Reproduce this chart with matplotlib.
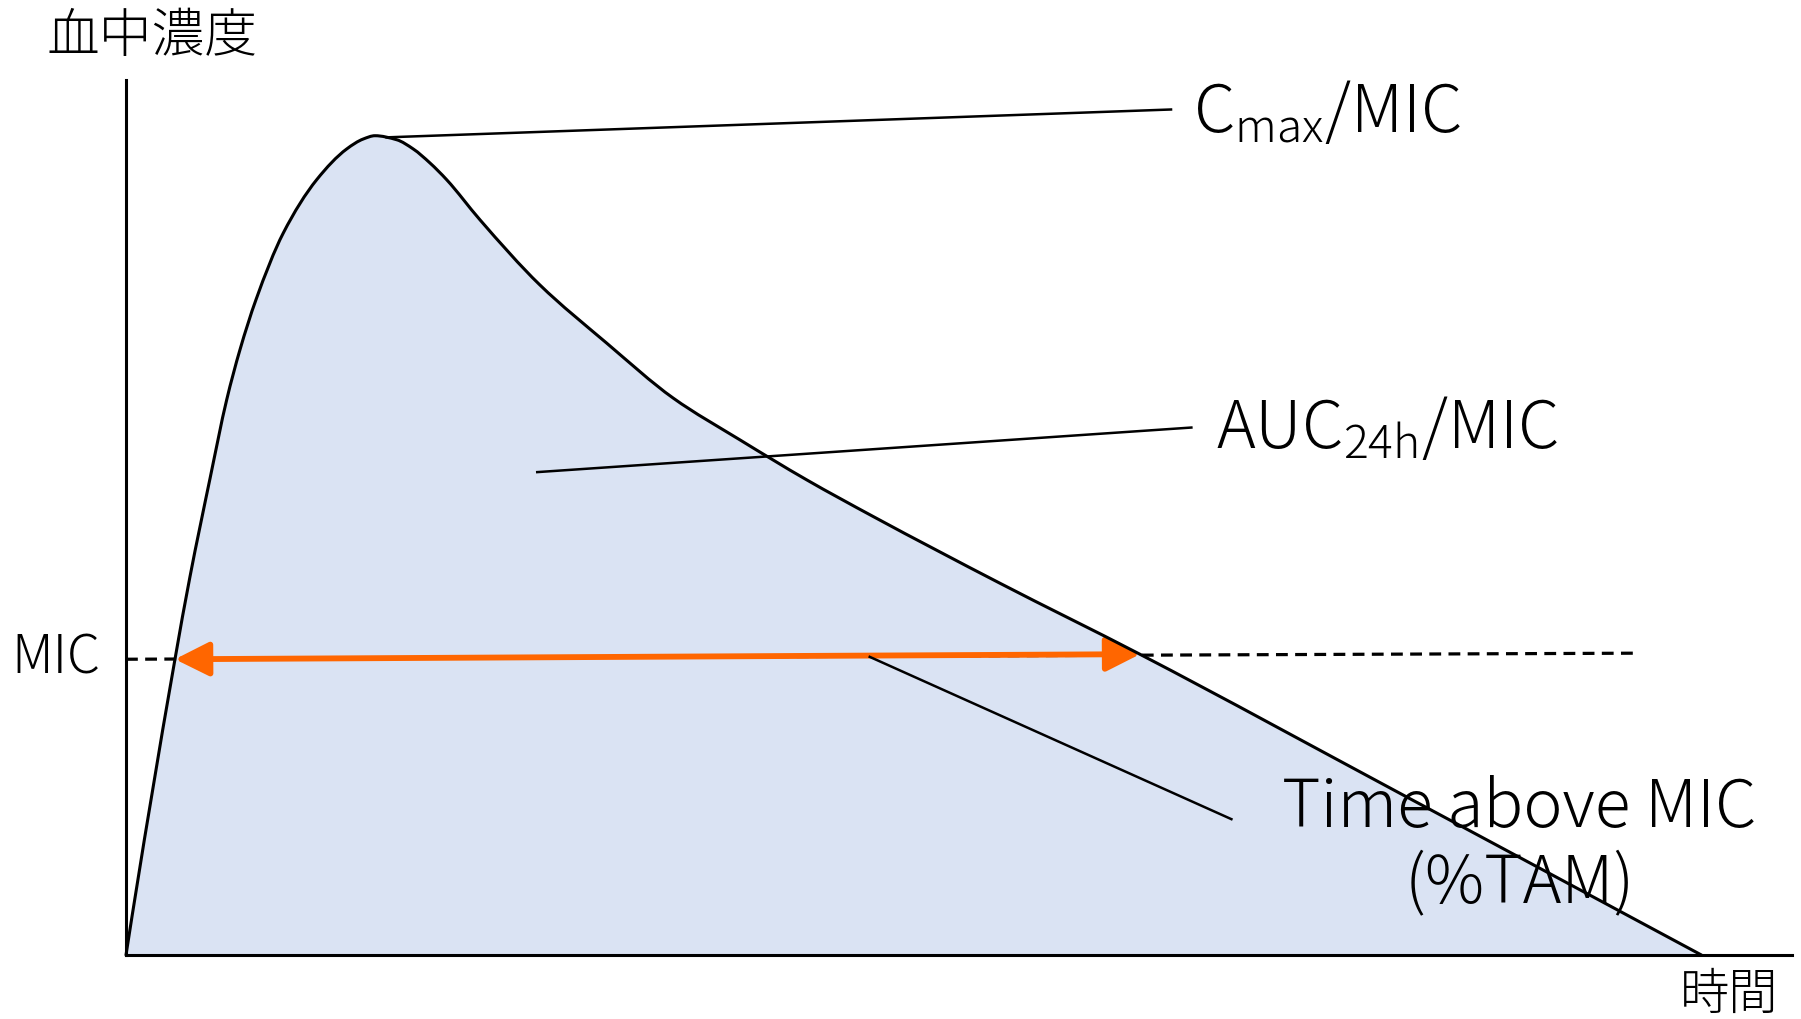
import matplotlib
matplotlib.use('Agg')
import matplotlib.pyplot as plt
import numpy as np
from matplotlib.path import Path
from matplotlib.patches import PathPatch

plt.rcParams['font.family'] = ['Noto Sans CJK JP', 'DejaVu Sans']
plt.rcParams['font.weight'] = 'light'
plt.rcParams['mathtext.fontset'] = 'custom'
plt.rcParams['mathtext.rm'] = 'Noto Sans CJK JP:light'
plt.rcParams['mathtext.it'] = 'Noto Sans CJK JP:light'
plt.rcParams['mathtext.bf'] = 'Noto Sans CJK JP'

# ---- data (time in h, concentration in arbitrary units) ----
time_h = [0.0, 0.746, 0.975, 1.280, 1.534, 1.736, 1.980, 2.396, 2.905, 3.362,
          3.615, 3.793, 4.123, 4.376, 4.631, 4.885, 5.392, 6.302, 7.322,
          8.337, 9.352, 10.369, 11.383, 13.313, 15.446, 19.406, 24.0]
conc = [0.0, 3.61, 4.619, 5.816, 6.777, 7.387, 7.998, 8.812, 9.463, 9.838,
        9.960, 10.0, 9.951, 9.838, 9.667, 9.463, 8.974, 8.181, 7.469,
        6.797, 6.288, 5.800, 5.352, 4.538, 3.671, 1.974, 0.0]

mic_line_x = [0.0, 23.04]
mic_line_y = [3.61, 3.684]
tam_arrow_x = [0.746, 15.45]
tam_arrow_y = [3.61, 3.672]

cmax_leader_x = [3.97, 15.92]
cmax_leader_y = [9.98, 10.32]
auc_leader_x = [6.265, 16.23]
auc_leader_y = [5.894, 6.438]
tam_leader_x = [11.33, 16.84]
tam_leader_y = [3.639, 1.658]

y_label = '血中濃度'
x_label = '時間'
mic_label = 'MIC'
cmax_label = r'C$_{\mathrm{max}}$/MIC'
auc_label = r'AUC$_{\mathrm{24h}}$/MIC'
tam_label1 = 'Time above MIC'
tam_label2 = '(%TAM)'

x_max = 25.38
y_max = 10.68


def smooth_curve(xs, ys):
    """Cubic Bezier path through the given points, with shape-preserving
    (PCHIP-style) tangents so the drawn line is smooth."""
    x = np.asarray(xs, float)
    y = np.asarray(ys, float)
    n = len(x)
    h = np.diff(x)
    d = np.diff(y) / h
    m = np.zeros(n)
    for k in range(1, n - 1):
        if d[k - 1] * d[k] > 0:
            w1 = 2 * h[k] + h[k - 1]
            w2 = h[k] + 2 * h[k - 1]
            m[k] = (w1 + w2) / (w1 / d[k - 1] + w2 / d[k])
        else:
            m[k] = 0.0
    m[0] = ((2 * h[0] + h[1]) * d[0] - h[0] * d[1]) / (h[0] + h[1])
    m[-1] = ((2 * h[-1] + h[-2]) * d[-1] - h[-1] * d[-2]) / (h[-1] + h[-2])
    verts = [(x[0], y[0])]
    codes = [Path.MOVETO]
    for i in range(n - 1):
        verts += [(x[i] + h[i] / 3, y[i] + m[i] * h[i] / 3),
                  (x[i + 1] - h[i] / 3, y[i + 1] - m[i + 1] * h[i] / 3),
                  (x[i + 1], y[i + 1])]
        codes += [Path.CURVE4] * 3
    return verts, codes


W, H = 1801, 1019
fig = plt.figure(figsize=(W / 100, H / 100), dpi=100)
ax = fig.add_axes([126 / W, 64 / H, (1792 - 126) / W, (955 - 80) / H])
ax.set_xlim(0, x_max)
ax.set_ylim(0, y_max)
for s in ['top', 'right']:
    ax.spines[s].set_visible(False)
for s in ['left', 'bottom']:
    ax.spines[s].set_linewidth(2.2)
    ax.spines[s].set_color('black')
    ax.spines[s].set_zorder(6)
ax.set_xticks([])
ax.set_yticks([])
ax.patch.set_visible(False)

fill_color = '#DAE3F3'
orange = '#FF6600'

verts, codes = smooth_curve(time_h, conc)
fill_path = Path(verts + [verts[0]], codes + [Path.CLOSEPOLY])
ax.add_patch(PathPatch(fill_path, facecolor=fill_color, edgecolor='none',
                       lw=0, zorder=1))

ax.plot(mic_line_x, mic_line_y, color='black', lw=2.3,
        linestyle=(0, (3.7, 2.3)), zorder=2, clip_on=False)
ax.annotate('', xy=(tam_arrow_x[1], tam_arrow_y[1]),
            xytext=(tam_arrow_x[0], tam_arrow_y[0]),
            arrowprops=dict(arrowstyle='<|-|>,head_length=0.4,head_width=0.2',
                            color=orange, lw=4.2, mutation_scale=52,
                            shrinkA=0, shrinkB=0),
            zorder=3)

ax.add_patch(PathPatch(Path(verts, codes), facecolor='none',
                       edgecolor='black', lw=2.2, zorder=4, clip_on=False,
                       joinstyle='round', capstyle='round'))

for lx, ly in [(cmax_leader_x, cmax_leader_y), (auc_leader_x, auc_leader_y),
               (tam_leader_x, tam_leader_y)]:
    ax.plot(lx, ly, color='black', lw=1.8, zorder=5, clip_on=False)

big = 47.5
ax.text(16.26, 10.05, cmax_label, fontsize=big, ha='left', va='baseline',
        zorder=7, clip_on=False)
ax.text(16.60, 6.187, auc_label, fontsize=big, ha='left', va='baseline',
        zorder=7, clip_on=False)
ax.text(21.23, 1.567, tam_label1, fontsize=big, ha='center', va='baseline',
        zorder=7, clip_on=False)
ax.text(21.23, 0.631, tam_label2, fontsize=big, ha='center', va='baseline',
        zorder=7, clip_on=False)
ax.text(-0.385, 3.44, mic_label, fontsize=38, ha='right', va='baseline',
        clip_on=False)

fig.text(46 / W, 1 - 52 / H, y_label, fontsize=38, ha='left',
         va='baseline')
fig.text(1680 / W, 1 - 1009 / H, x_label, fontsize=35.5, ha='left',
         va='baseline')

fig.savefig('out.png', dpi=100)
